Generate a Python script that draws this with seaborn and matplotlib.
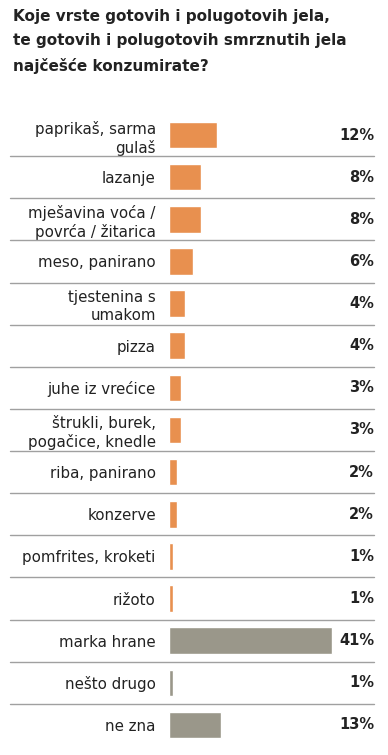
import matplotlib
matplotlib.use("Agg")
import matplotlib.pyplot as plt
import matplotlib.transforms as mtransforms
import pandas as pd
import seaborn as sns

title = ("Koje vrste gotovih i polugotovih jela,\n"
         "te gotovih i polugotovih smrznutih jela\n"
         "najčešće konzumirate?")

categories = [
    "paprikaš, sarma\ngulaš", "lazanje", "mješavina voća /\npovrća / žitarica",
    "meso, panirano", "tjestenina s\numakom", "pizza", "juhe iz vrećice",
    "štrukli, burek,\npogačice, knedle", "riba, panirano", "konzerve",
    "pomfrites, kroketi", "rižoto", "marka hrane", "nešto drugo", "ne zna",
]
values = [12, 8, 8, 6, 4, 4, 3, 3, 2, 2, 1, 1, 41, 1, 13]
groups = ["jelo"] * 12 + ["ostalo"] * 3

colors = {"jelo": "#E8904F", "ostalo": "#9A978A"}

df = pd.DataFrame({"kategorija": categories, "udio": values, "grupa": groups})

sns.set_theme(style="white")
plt.rcParams["font.family"] = ["DejaVu Sans"]

W, H = 388, 755
fig = plt.figure(figsize=(W / 100, H / 100), dpi=100)

# axes placed in pixel terms of the reference
left_px, right_px = 169, 374
top_px, bottom_px = 114, 746
ax = fig.add_axes([left_px / W, 1 - bottom_px / H,
                   (right_px - left_px) / W, (bottom_px - top_px) / H])

sns.barplot(data=df, x="udio", y="kategorija", hue="grupa", palette=colors,
            dodge=False, width=0.63, legend=False, ax=ax, saturation=1)

xmax = (right_px - left_px) / ((332 - 169) / 41)
ax.set_xlim(0, xmax)
ax.set_ylim(len(categories) - 0.5, -0.5)
ax.set_xlabel("")
ax.set_ylabel("")
ax.set_xticks([])
ax.tick_params(axis="y", length=0, pad=9.5, labelsize=10.8, labelcolor="#222222")
for lbl in ax.get_yticklabels():
    lbl.set_horizontalalignment("right")
    lbl.set_linespacing(1.25)
sns.despine(ax=ax, left=True, bottom=True, top=True, right=True)

# separators between rows
sep_xmin = (10 - left_px) / (right_px - left_px)
for i in range(len(categories) - 1):
    ax.axhline(i + 0.5, xmin=sep_xmin, xmax=1.0, color="#a0a0a0",
               lw=1.0, clip_on=False)

# percentage labels at right edge
trans = mtransforms.blended_transform_factory(ax.transAxes, ax.transData)
for i, v in enumerate(values):
    ax.text(1.0, i, f"{v}%", transform=trans, ha="right", va="center",
            fontsize=10.5, fontweight="bold", color="#222222")

fig.text(13 / W, 1 - 9 / H, title, ha="left", va="top", fontsize=11,
         fontweight="bold", color="#222222", linespacing=1.75)

fig.savefig("out.png", dpi=100, facecolor="white")
